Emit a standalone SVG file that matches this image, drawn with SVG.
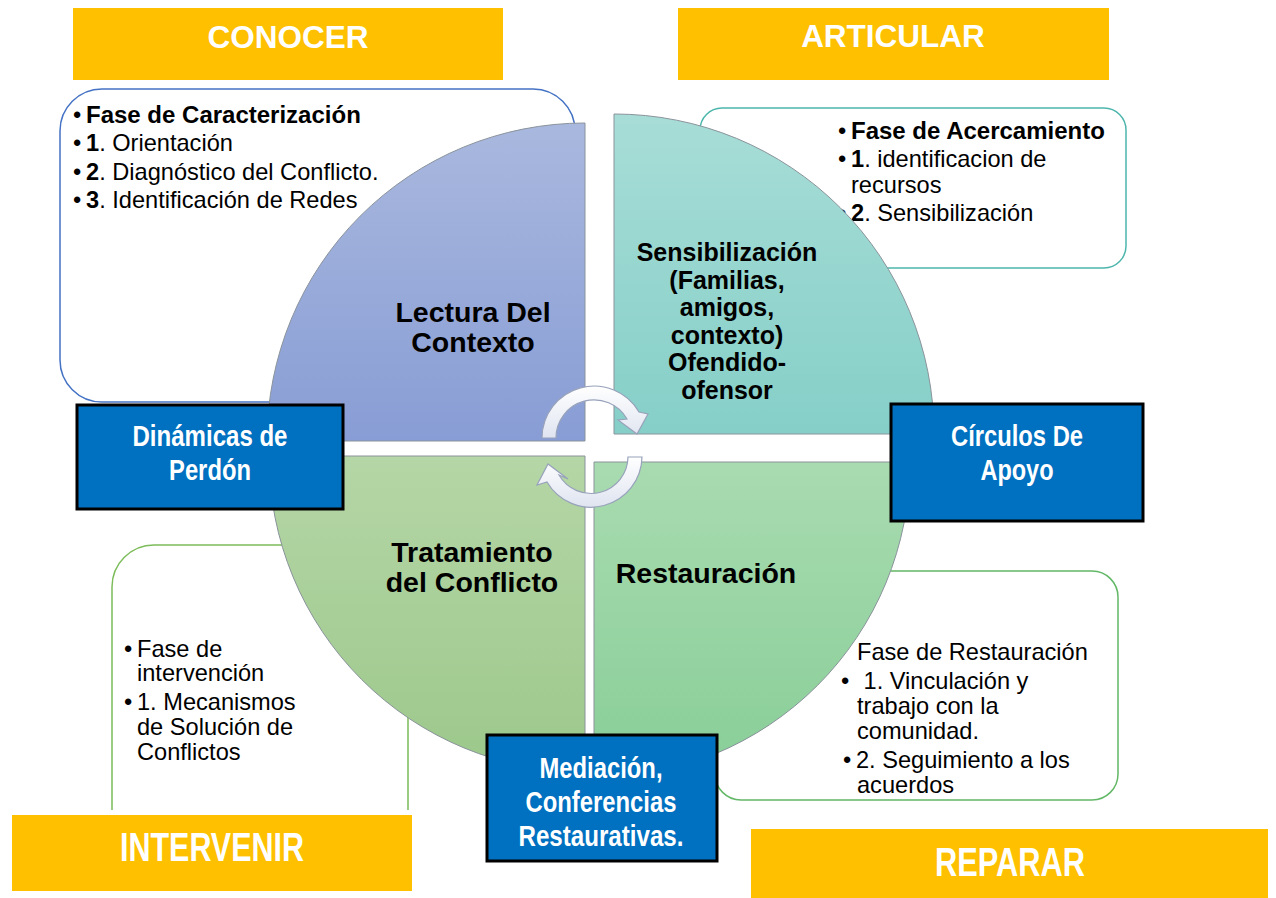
<svg xmlns="http://www.w3.org/2000/svg" width="1276" height="898" viewBox="0 0 1276 898">
<defs>
<linearGradient id="gTL" x1="0" y1="0" x2="0" y2="1"><stop offset="0" stop-color="#a9b8de"/><stop offset="1" stop-color="#889dd5"/></linearGradient>
<linearGradient id="gTR" x1="0" y1="0" x2="0" y2="1"><stop offset="0" stop-color="#a8ddd7"/><stop offset="1" stop-color="#85cfc8"/></linearGradient>
<linearGradient id="gBL" x1="0" y1="0" x2="0" y2="1"><stop offset="0" stop-color="#b5d6a6"/><stop offset="1" stop-color="#9cc88b"/></linearGradient>
<linearGradient id="gBR" x1="0" y1="0" x2="0" y2="1"><stop offset="0" stop-color="#a9dbb0"/><stop offset="1" stop-color="#88ce98"/></linearGradient>
<linearGradient id="gArr" x1="0" y1="0" x2="0" y2="1"><stop offset="0" stop-color="#ffffff"/><stop offset="1" stop-color="#dfe4f0"/></linearGradient>
</defs>
<style>
.box{fill:#ffffff;stroke-width:1.5}
.t{font-family:"Liberation Sans",Arial,sans-serif;font-size:23.6px;fill:#000}
.b{font-weight:bold}
.hb{font-weight:bold;font-size:24px}
.ql{font-family:"Liberation Sans",Arial,sans-serif;font-weight:bold;font-size:28.5px;fill:#000;text-anchor:middle}
.qs{font-size:25px}
.blue{fill:#0070c0;stroke:#000;stroke-width:3}
.bt{font-family:"Liberation Sans Narrow","Arial Narrow","Liberation Sans",sans-serif;font-weight:bold;font-size:29px;fill:#fff;text-anchor:middle}
.yel{fill:#ffc000}
.yt{font-family:"Liberation Sans",Arial,sans-serif;font-weight:bold;font-size:31.5px;fill:#fff;text-anchor:middle}
.ynt{font-family:"Liberation Sans Narrow","Arial Narrow","Liberation Sans",sans-serif;font-weight:bold;font-size:40px;fill:#fff;text-anchor:middle}
.arr{fill:url(#gArr);stroke:#98a2bb;stroke-width:1.2}
.qe{stroke:#8a939b;stroke-width:1}
</style>

<!-- text boxes (behind the circle) -->
<g id="box-caracterizacion">
<rect class="box" x="60" y="89" width="515" height="313" rx="42" stroke="#4472c4"/>
<text class="t"><tspan x="73" y="123">•</tspan><tspan x="86" y="123" class="hb">Fase de Caracterización</tspan></text>
<text class="t"><tspan x="73" y="151">•</tspan><tspan x="86" y="151" class="b">1</tspan><tspan>. Orientación</tspan></text>
<text class="t"><tspan x="73" y="180">•</tspan><tspan x="86" y="180" class="b">2</tspan><tspan>. Diagnóstico del Conflicto.</tspan></text>
<text class="t"><tspan x="73" y="208">•</tspan><tspan x="86" y="208" class="b">3</tspan><tspan>. Identificación de Redes</tspan></text>
</g>
<g id="box-acercamiento">
<rect class="box" x="700" y="108" width="426" height="160" rx="22" stroke="#4db6ac"/>
<text class="t"><tspan x="838" y="139">•</tspan><tspan x="851" y="139" class="hb">Fase de Acercamiento</tspan></text>
<text class="t"><tspan x="838" y="167">•</tspan><tspan x="851" y="167" class="b">1</tspan><tspan>. identificacion de</tspan></text>
<text class="t" x="851" y="193">recursos</text>
<text class="t"><tspan x="838" y="221">•</tspan><tspan x="851" y="221" class="b">2</tspan><tspan>. Sensibilización</tspan></text>
</g>
<g id="box-intervencion">
<path d="M112 810 V587 A42 42 0 0 1 154 545 H366 A42 42 0 0 1 408 587 V810" fill="#fff" stroke="#7cbc5a" stroke-width="1.5"/>
<text class="t"><tspan x="124" y="657">•</tspan><tspan x="137" y="657">Fase de</tspan></text>
<text class="t" x="137" y="681">intervención</text>
<text class="t"><tspan x="124" y="710">•</tspan><tspan x="137" y="710">1. Mecanismos</tspan></text>
<text class="t" x="137" y="735">de Solución de</text>
<text class="t" x="137" y="760">Conflictos</text>
</g>
<g id="box-restauracion">
<rect class="box" x="715" y="571" width="403" height="229" rx="26" stroke="#62b866"/>
<text class="t" x="857" y="660">Fase de Restauración</text>
<text class="t"><tspan x="841" y="689">•</tspan><tspan x="857" y="689"> 1. Vinculación y</tspan></text>
<text class="t" x="857" y="714">trabajo con la</text>
<text class="t" x="857" y="739">comunidad.</text>
<text class="t"><tspan x="843" y="768">•</tspan><tspan x="856" y="768">2. Seguimiento a los</tspan></text>
<text class="t" x="857" y="793">acuerdos</text>
</g>

<!-- circle quadrants -->
<g id="q-lectura">
<path class="qe" d="M585 441 H267 A318 318 0 0 1 585 123 Z" fill="url(#gTL)"/>
<text class="ql" x="473" y="322">Lectura Del</text>
<text class="ql" x="473" y="352">Contexto</text>
</g>
<g id="q-sensibilizacion">
<path class="qe" d="M614 434 V114 A320 320 0 0 1 934 434 Z" fill="url(#gTR)"/>
<text class="ql qs" x="727" y="261">Sensibilización</text>
<text class="ql qs" x="727" y="289">(Familias,</text>
<text class="ql qs" x="727" y="316">amigos,</text>
<text class="ql qs" x="727" y="344">contexto)</text>
<text class="ql qs" x="727" y="371">Ofendido-</text>
<text class="ql qs" x="727" y="399">ofensor</text>
</g>
<g id="q-tratamiento">
<path class="qe" d="M585 456 V772 A316 316 0 0 1 269 456 Z" fill="url(#gBL)"/>
<text class="ql" x="472" y="562">Tratamiento</text>
<text class="ql" x="472" y="592">del Conflicto</text>
</g>
<g id="q-restauracion">
<path class="qe" d="M594 462 H910 A316 316 0 0 1 594 778 Z" fill="url(#gBR)"/>
<text class="ql" x="706" y="583">Restauración</text>
</g>

<!-- cycle arrows -->
<g id="connectors">
<path class="arr" d="M542 438 A52 52 0 0 1 639 412 L648 414 L637 434 L618 420 L627 419 A38 38 0 0 0 556 438 Z"/>
<path class="arr" d="M642 457 A51 51 0 0 1 547 482 L537 485 L548 464 L568 479 L559 475 A37 37 0 0 0 628 457 Z"/>
</g>

<!-- blue label boxes -->
<g id="n-dinamicas">
<rect class="blue" x="77" y="405" width="266" height="104"/>
<text class="bt" x="210" y="446" textLength="155" lengthAdjust="spacingAndGlyphs">Dinámicas de</text>
<text class="bt" x="210" y="480" textLength="82" lengthAdjust="spacingAndGlyphs">Perdón</text>
</g>
<g id="n-circulos">
<rect class="blue" x="891" y="404" width="252" height="117"/>
<text class="bt" x="1017" y="446" textLength="132" lengthAdjust="spacingAndGlyphs">Círculos De</text>
<text class="bt" x="1017" y="480" textLength="73" lengthAdjust="spacingAndGlyphs">Apoyo</text>
</g>
<g id="n-mediacion">
<rect class="blue" x="487" y="735" width="230" height="126"/>
<text class="bt" x="601" y="778" textLength="123" lengthAdjust="spacingAndGlyphs">Mediación,</text>
<text class="bt" x="601" y="812" textLength="151" lengthAdjust="spacingAndGlyphs">Conferencias</text>
<text class="bt" x="601" y="846" textLength="165" lengthAdjust="spacingAndGlyphs">Restaurativas.</text>
</g>

<!-- yellow headers -->
<g id="h-conocer">
<rect class="yel" x="73" y="8" width="430" height="72"/>
<text class="yt" x="288" y="48">CONOCER</text>
</g>
<g id="h-articular">
<rect class="yel" x="678" y="8" width="431" height="72"/>
<text class="yt" x="893" y="47">ARTICULAR</text>
</g>
<g id="h-intervenir">
<rect class="yel" x="12" y="815" width="400" height="76"/>
<text class="ynt" x="212" y="861" textLength="184" lengthAdjust="spacingAndGlyphs">INTERVENIR</text>
</g>
<g id="h-reparar">
<rect class="yel" x="751" y="829" width="517" height="69"/>
<text class="ynt" x="1010" y="876" textLength="150" lengthAdjust="spacingAndGlyphs">REPARAR</text>
</g>
</svg>
